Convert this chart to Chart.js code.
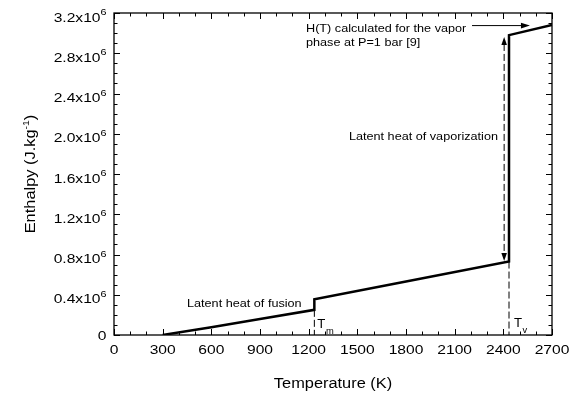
<!DOCTYPE html>
<html>
<head>
<meta charset="utf-8">
<script src="https://cdn.jsdelivr.net/npm/chart.js@4/dist/chart.umd.min.js"></script>
<style>
html,body{margin:0;padding:0;background:#fff;}
#c{display:block;}
</style>
</head>
<body>
<canvas id="c" width="581" height="396"></canvas>
<script>
// ---- data ----
const temperature = [300, 600, 900, 1235, 1235, 1800, 2435, 2435, 2700];      // K
const enthalpy    = [0, 0.078e6, 0.158e6, 0.25e6, 0.355e6, 0.532e6, 0.73e6, 2.98e6, 3.08e6]; // J/kg
const xTicks = [0, 300, 600, 900, 1200, 1500, 1800, 2100, 2400, 2700];
const yTicks = [0, 0.4e6, 0.8e6, 1.2e6, 1.6e6, 2.0e6, 2.4e6, 2.8e6, 3.2e6];
const meltingT = 1235, boilingT = 2435;

const FONT = '"Liberation Sans", Arial, Helvetica, sans-serif';

function txt(ctx, s, x, y, size, align, sx) {
  ctx.save();
  ctx.font = size + 'px ' + FONT;
  const w = ctx.measureText(s).width * sx;
  const x0 = align === 'center' ? x - w / 2 : (align === 'right' ? x - w : x);
  ctx.translate(x0, y);
  ctx.scale(sx, 1);
  ctx.textAlign = 'left';
  ctx.textBaseline = 'alphabetic';
  ctx.fillStyle = '#000';
  ctx.fillText(s, 0, 0);
  ctx.restore();
  return w;
}
function tw(ctx, s, size, sx) {
  ctx.save(); ctx.font = size + 'px ' + FONT;
  const w = ctx.measureText(s).width * sx; ctx.restore(); return w;
}
function arrowHead(ctx, x, y, dir, len, half) {
  // dir: 'up','down','right'
  ctx.beginPath();
  if (dir === 'up') { ctx.moveTo(x, y); ctx.lineTo(x - half, y + len); ctx.lineTo(x + half, y + len); }
  else if (dir === 'down') { ctx.moveTo(x, y); ctx.lineTo(x - half, y - len); ctx.lineTo(x + half, y - len); }
  else { ctx.moveTo(x, y); ctx.lineTo(x - len, y - half); ctx.lineTo(x - len, y + half); }
  ctx.closePath(); ctx.fill();
}

const decor = {
  id: 'decor',
  afterDatasetsDraw(chart) {
    const ctx = chart.ctx;
    const xs = chart.scales.x, ys = chart.scales.y;
    const a = chart.chartArea;
    ctx.save();
    ctx.strokeStyle = '#000'; ctx.fillStyle = '#000';
    // frame
    ctx.lineWidth = 1.3;
    ctx.strokeRect(a.left, a.top, a.right - a.left, a.bottom - a.top);
    // x ticks (inward, bottom & top)
    ctx.lineWidth = 1;
    for (let v = 0; v <= 2700; v += 100) {
      const px = Math.round(xs.getPixelForValue(v)) + 0.5;
      const L = (v % 300 === 0) ? 6 : 3.5;
      ctx.beginPath();
      ctx.moveTo(px, a.bottom); ctx.lineTo(px, a.bottom - L);
      ctx.moveTo(px, a.top); ctx.lineTo(px, a.top + L);
      ctx.stroke();
    }
    for (let i = 0; i <= 32; i++) {
      const py = Math.round(ys.getPixelForValue(i * 1e5)) + 0.5;
      const L = (i % 4 === 0) ? 6 : 3.5;
      ctx.beginPath();
      ctx.moveTo(a.left, py); ctx.lineTo(a.left + L, py);
      ctx.moveTo(a.right, py); ctx.lineTo(a.right - L, py);
      ctx.stroke();
    }
    // x tick labels
    xTicks.forEach(v => {
      txt(ctx, String(v), xs.getPixelForValue(v), a.bottom + 19, 13, 'center', 1.2);
    });
    // y tick labels
    const rightEdge = a.left - 7.5;
    yTicks.forEach(v => {
      const py = ys.getPixelForValue(v);
      if (v === 0) { txt(ctx, '0', rightEdge, py + 4.5, 13, 'right', 1.2); return; }
      const main = (v / 1e6).toFixed(1) + 'x10';
      const supW = tw(ctx, '6', 9, 1.2);
      const mainW = tw(ctx, main, 13, 1.2);
      txt(ctx, main, rightEdge - supW - mainW, py + 8.5, 13, 'left', 1.2);
      txt(ctx, '6', rightEdge - supW, py + 2, 9, 'left', 1.2);
    });
    // axis titles
    txt(ctx, 'Temperature (K)', (a.left + a.right) / 2 + 0, 388, 14, 'center', 1.17);
    ctx.save();
    ctx.translate(35, (a.top + a.bottom) / 2);
    ctx.rotate(-Math.PI / 2);
    const p1 = 'Enthalpy (J.kg', p2 = '-1', p3 = ')';
    const w1 = tw(ctx, p1, 14, 1.17), w2 = tw(ctx, p2, 9, 1.17), w3 = tw(ctx, p3, 14, 1.17);
    let sx0 = -(w1 + w2 + w3) / 2;
    txt(ctx, p1, sx0, 0, 14, 'left', 1.17);
    txt(ctx, p2, sx0 + w1, -6, 9, 'left', 1.17);
    txt(ctx, p3, sx0 + w1 + w2, 0, 14, 'left', 1.17);
    ctx.restore();

    // dashed lines at Tm and Tv
    ctx.lineWidth = 1;
    ctx.setLineDash([7, 3]);
    const xm = xs.getPixelForValue(meltingT), xv = xs.getPixelForValue(boilingT);
    ctx.beginPath();
    ctx.moveTo(xm, ys.getPixelForValue(0.25e6)); ctx.lineTo(xm, a.bottom);
    ctx.moveTo(xv, ys.getPixelForValue(0.73e6)); ctx.lineTo(xv, a.bottom);
    ctx.stroke();
    // latent heat of vaporization double arrow
    const xa = xs.getPixelForValue(2405);
    const yTop = ys.getPixelForValue(2.962e6), yBot = ys.getPixelForValue(0.7355e6);
    ctx.beginPath();
    ctx.moveTo(xa, yTop + 7); ctx.lineTo(xa, yBot - 7);
    ctx.stroke();
    ctx.setLineDash([]);
    arrowHead(ctx, xa, yTop, 'up', 8, 2.8);
    arrowHead(ctx, xa, yBot, 'down', 8, 2.8);
    // horizontal arrow to the vapor curve
    const yh = ys.getPixelForValue(3.075e6);
    const xh0 = xs.getPixelForValue(2207), xh1 = xs.getPixelForValue(2564);
    ctx.beginPath(); ctx.moveTo(xh0, yh); ctx.lineTo(xh1 - 8, yh); ctx.stroke();
    arrowHead(ctx, xh1, yh, 'right', 9, 2.8);

    // annotations
    txt(ctx, 'Latent heat of fusion', 187, 307, 11.5, 'left', 1.1);
    txt(ctx, 'Latent heat of vaporization', 498, 139.5, 11.5, 'right', 1.1);
    txt(ctx, 'H(T) calculated for the vapor', 306, 31.7, 11.5, 'left', 1.1);
    txt(ctx, 'phase at P=1 bar [9]', 306, 45.5, 11.5, 'left', 1.1);
    // T_m and T_v
    let wT = txt(ctx, 'T', xm + 3, 328, 12, 'left', 1.1);
    txt(ctx, 'm', xm + 3 + wT + 0.5, 334, 8.5, 'left', 1.1);
    wT = txt(ctx, 'T', xv + 5, 327, 12, 'left', 1.1);
    txt(ctx, 'v', xv + 5 + wT + 0.5, 333, 8.5, 'left', 1.1);
    ctx.restore();
  }
};

new Chart(document.getElementById('c'), {
  type: 'scatter',
  data: {
    datasets: [{
      data: temperature.map((t, i) => ({ x: t, y: enthalpy[i] })),
      showLine: true,
      borderColor: '#000',
      backgroundColor: '#000',
      borderWidth: 2.5,
      pointRadius: 0,
      tension: 0,
      borderJoinStyle: 'miter'
    }]
  },
  options: {
    responsive: false,
    animation: false,
    devicePixelRatio: 1,
    layout: { padding: { left: 114, right: 29, top: 13, bottom: 61 } },
    plugins: { legend: { display: false }, tooltip: { enabled: false } },
    scales: {
      x: { type: 'linear', min: 0, max: 2700, display: false },
      y: { type: 'linear', min: 0, max: 3.2e6, display: false }
    }
  },
  plugins: [decor]
});
</script>
</body>
</html>
